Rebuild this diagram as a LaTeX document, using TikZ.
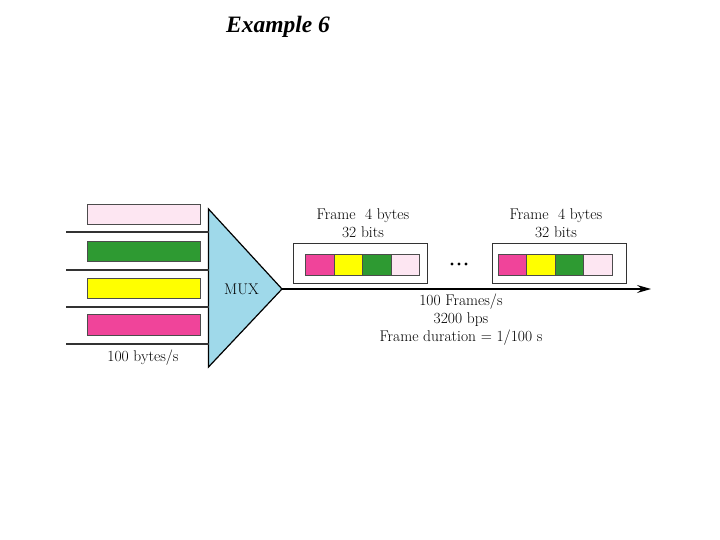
\documentclass[tikz,border=0pt]{standalone}
\usepackage{fontspec}
\newfontfamily\titlefont{Liberation Serif}
\usetikzlibrary{arrows.meta}
\definecolor{lpink}{HTML}{FDE6F2}
\definecolor{dgreen}{HTML}{2E9A32}
\definecolor{yel}{HTML}{FFFF00}
\definecolor{mag}{HTML}{F0449A}
\definecolor{lblue}{HTML}{9FD9EA}
\tikzset{
  bar/.style={draw=black!70, line width=0.8pt, minimum width=113pt, minimum height=20.5pt, inner sep=0pt},
  cell/.style={draw=black!70, line width=0.8pt, minimum width=28.5pt, minimum height=21pt, inner sep=0pt},
  framebox/.style={draw=black!80, line width=1pt, minimum width=134pt, minimum height=40pt, inner sep=0pt},
  inline/.style={draw=black!80, line width=1.4pt},
  lbl/.style={font=\fontsize{15.5}{18}\selectfont, inner sep=0pt, align=center},
  dotstyle/.style={fill=black, circle, inner sep=0pt, minimum size=3.4pt}
}
\begin{document}
\begin{tikzpicture}[x=1pt,y=-1pt]
\useasboundingbox (0,0) rectangle (720,540);
\node[font=\titlefont\bfseries\itshape\fontsize{23.5}{26}\selectfont] (title) at (278,27) {Example 6};
% input bars
\node[bar, fill=lpink] (b1) at (143.5,214.5) {};
\node[bar, fill=dgreen] (b2) at (143.5,251.5) {};
\node[bar, fill=yel] (b3) at (143.5,288.5) {};
\node[bar, fill=mag] (b4) at (143.5,325) {};
% mux triangle
\coordinate (tl) at (208.5,209);
\coordinate (bl) at (208.5,367);
\coordinate (apex) at (282,289);
\draw[fill=lblue, line width=1.2pt, line join=miter] (tl) -- (apex) -- (bl) -- cycle;
\node[lbl] (mux) at (241.5,289) {MUX};
% input lines
\foreach \y/\n in {232/1,270/2,307/3,344/4}{
  \coordinate (s\n) at (66,\y);
  \coordinate (e\n) at (208.5,\y);
  \draw[inline] (s\n) -- (e\n);
}
\node[lbl] (rate) at (143,357.5) {100 bytes/s};
% output line
\coordinate (out) at (651,289);
\draw[line width=1.4pt, -{Stealth[length=14pt,width=8pt,inset=5pt]}] (apex) -- (out);
% frames
\node[framebox] (f1) at (360,263) {};
\node[cell, fill=mag] (c11) at (320,264.5) {};
\node[cell, fill=yel] (c12) at (348.5,264.5) {};
\node[cell, fill=dgreen] (c13) at (377,264.5) {};
\node[cell, fill=lpink] (c14) at (405.5,264.5) {};
\node[framebox] (f2) at (559.5,263) {};
\node[cell, fill=mag] (c21) at (512.5,264.5) {};
\node[cell, fill=yel] (c22) at (541,264.5) {};
\node[cell, fill=dgreen] (c23) at (569.5,264.5) {};
\node[cell, fill=lpink] (c24) at (598,264.5) {};
\node[dotstyle] (d1) at (452,264) {};
\node[dotstyle] (d2) at (459,264) {};
\node[dotstyle] (d3) at (466,264) {};
\node[lbl] (l1) at (363,223.5) {Frame\ \ 4 bytes\\32 bits};
\node[lbl] (l2) at (556,223.5) {Frame\ \ 4 bytes\\32 bits};
\node[lbl] (stats) at (461,319.5) {100 Frames/s\\3200 bps\\Frame duration = 1/100 s};
\end{tikzpicture}
\end{document}
